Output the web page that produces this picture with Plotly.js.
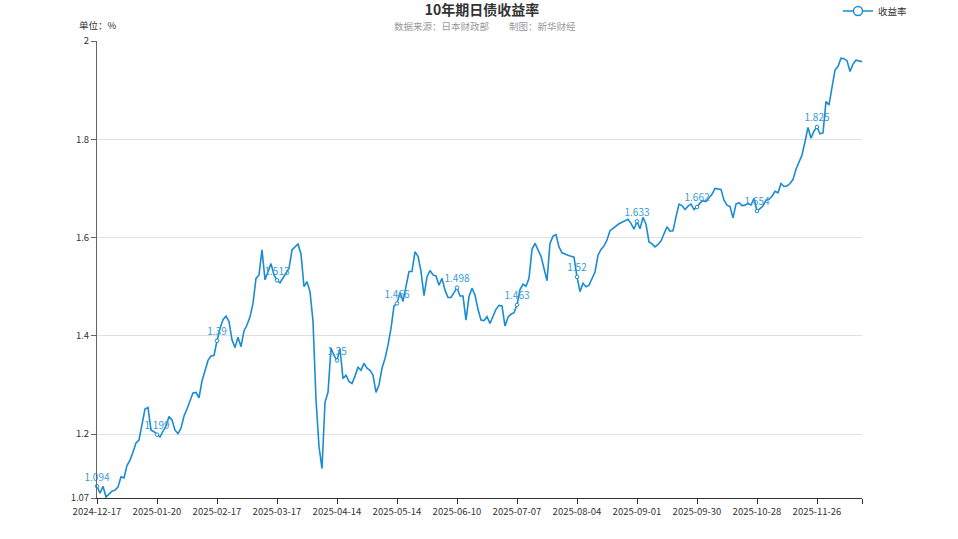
<!DOCTYPE html>
<html>
<head>
<meta charset="utf-8">
<script src="https://cdn.plot.ly/plotly-3.0.1.min.js"></script>
<style>
html,body{margin:0;padding:0;background:#fff;}
#chart{width:958px;height:539px;}
</style>
</head>
<body>
<div id="chart"></div>
<script>
// ---- data ----
const seriesName = '收益率';
const tickLabels = ['2024-12-17','2025-01-20','2025-02-17','2025-03-17','2025-04-14','2025-05-14',
  '2025-06-10','2025-07-07','2025-08-04','2025-09-01','2025-09-30','2025-10-28','2025-11-26'];
const yields = [
  1.094,1.080,1.094,1.072,1.078,1.084,1.086,1.092,1.113,1.111,
  1.136,1.147,1.163,1.182,1.188,1.218,1.251,1.254,1.208,1.205,
  1.199,1.194,1.206,1.216,1.236,1.229,1.208,1.201,1.212,1.237,
  1.251,1.266,1.284,1.285,1.274,1.308,1.327,1.350,1.359,1.360,
  1.390,1.415,1.433,1.440,1.429,1.392,1.376,1.397,1.378,1.410,
  1.422,1.439,1.466,1.517,1.524,1.575,1.514,1.531,1.547,1.524,
  1.513,1.508,1.517,1.528,1.537,1.575,1.581,1.587,1.566,1.500,
  1.510,1.490,1.430,1.270,1.175,1.130,1.265,1.285,1.375,1.360,
  1.350,1.374,1.313,1.320,1.307,1.303,1.318,1.336,1.330,1.344,
  1.334,1.330,1.320,1.285,1.300,1.334,1.354,1.381,1.415,1.461,
  1.466,1.488,1.470,1.500,1.531,1.531,1.571,1.562,1.531,1.482,
  1.520,1.533,1.524,1.522,1.503,1.517,1.493,1.478,1.478,1.488,
  1.498,1.481,1.481,1.432,1.480,1.497,1.483,1.454,1.432,1.431,
  1.439,1.425,1.440,1.454,1.462,1.461,1.420,1.438,1.444,1.447,
  1.463,1.494,1.505,1.501,1.517,1.576,1.588,1.576,1.562,1.537,
  1.512,1.588,1.603,1.606,1.581,1.569,1.566,1.564,1.562,1.560,
  1.520,1.490,1.507,1.500,1.503,1.515,1.530,1.564,1.576,1.583,
  1.595,1.614,1.619,1.624,1.628,1.631,1.634,1.637,1.629,1.617,
  1.633,1.618,1.641,1.627,1.591,1.587,1.581,1.586,1.593,1.608,
  1.622,1.613,1.614,1.642,1.668,1.665,1.657,1.664,1.668,1.657,
  1.662,1.670,1.675,1.673,1.681,1.688,1.700,1.699,1.698,1.676,
  1.666,1.663,1.640,1.668,1.671,1.665,1.666,1.670,1.666,1.680,
  1.654,1.659,1.664,1.676,1.678,1.684,1.694,1.691,1.710,1.704,
  1.705,1.710,1.718,1.739,1.754,1.768,1.795,1.824,1.802,1.817,
  1.825,1.811,1.813,1.877,1.870,1.907,1.941,1.948,1.965,1.964,
  1.960,1.938,1.953,1.961,1.959,1.958
];
const yTicks = [1.07, 1.2, 1.4, 1.6, 1.8, 2];
const labelEvery = 20;

// ---- derived ----
const idx = yields.map((_, i) => i);
const lastIdx = yields.length - 1;
const tickVals = tickLabels.map((_, k) => k * labelEvery).concat([lastIdx]);
const tickText = tickLabels.concat(['']);
const lblX = idx.filter(i => i % labelEvery === 0);
const lblY = lblX.map(i => yields[i]);
const lblT = lblY.map(v => String(Number(v)));

const lineColor = '#1a8cd2';
const labelColor = '#3a9ad8';
const FONT = '"Noto Sans CJK SC", "Noto Sans", sans-serif';

const W = 958, H = 539, L = 97, R = 96, T = 41, B = 41;
const pw = W - L - R, ph = H - T - B;
const px = x => (x - L) / pw;
const py = y => 1 + (T - y) / ph;

const traces = [
  {
    x: idx, y: yields, type: 'scatter', mode: 'lines',
    line: {color: lineColor, width: 1.6},
    showlegend: false, hoverinfo: 'skip', cliponaxis: false
  },
  {
    x: lblX, y: lblY, type: 'scatter', mode: 'markers+text',
    text: lblT, textposition: 'top center',
    textfont: {family: FONT, size: 10, color: labelColor},
    marker: {size: 3.5, color: '#ffffff', line: {color: lineColor, width: 1}},
    showlegend: false, hoverinfo: 'skip', cliponaxis: false
  },
  {
    x: [null], y: [null], type: 'scatter', mode: 'lines+markers', name: seriesName,
    line: {color: lineColor, width: 1.6},
    marker: {size: 9, color: '#ffffff', line: {color: lineColor, width: 1.4}},
    showlegend: true, hoverinfo: 'skip'
  }
];

const layout = {
  width: W, height: H,
  margin: {l: L, r: R, t: T, b: B, pad: 0, autoexpand: false},
  paper_bgcolor: '#ffffff', plot_bgcolor: '#ffffff',
  font: {family: FONT, size: 10, color: '#333'},
  showlegend: true,
  legend: {
    x: px(838), y: py(11), xanchor: 'left', yanchor: 'middle',
    orientation: 'h', bgcolor: 'rgba(0,0,0,0)',
    font: {family: FONT, size: 9.5, color: '#333'}
  },
  xaxis: {
    range: [0, lastIdx],
    tickmode: 'array', tickvals: tickVals, ticktext: tickText,
    ticks: 'outside', ticklen: 5, tickcolor: '#333', tickwidth: 1,
    showline: true, linecolor: '#333', linewidth: 1,
    showgrid: false, zeroline: false, automargin: false,
    tickfont: {family: FONT, size: 9.5, color: '#333'}
  },
  yaxis: {
    range: [yTicks[0], yTicks[yTicks.length - 1]],
    tickmode: 'array', tickvals: yTicks, ticktext: yTicks.map(v => String(v)),
    ticks: 'outside', ticklen: 5, tickcolor: '#666', tickwidth: 1,
    showline: true, linecolor: '#666', linewidth: 1,
    showgrid: true, gridcolor: '#e0e0e0', gridwidth: 1, zeroline: false, automargin: false,
    tickfont: {family: FONT, size: 9.5, color: '#333'}
  },
  title: {
    text: '<b>10年期日债收益率</b>',
    font: {family: FONT, size: 14, color: '#333'},
    x: 482 / W, xref: 'container', xanchor: 'center',
    y: 1 - 10 / H, yref: 'container', yanchor: 'middle', automargin: false
  },
  annotations: [
    {text: '数据来源：日本财政部', xref: 'paper', yref: 'paper', x: px(392), y: py(26),
     xanchor: 'left', yanchor: 'middle', showarrow: false,
     font: {family: FONT, size: 9.5, color: '#999'}},
    {text: '制图：新华财经', xref: 'paper', yref: 'paper', x: px(507), y: py(26),
     xanchor: 'left', yanchor: 'middle', showarrow: false,
     font: {family: FONT, size: 9.5, color: '#999'}},
    {text: '单位：%', xref: 'paper', yref: 'paper', x: px(77), y: py(25),
     xanchor: 'left', yanchor: 'middle', showarrow: false,
     font: {family: FONT, size: 9.5, color: '#333'}}
  ]
};

Plotly.newPlot('chart', traces, layout, {displayModeBar: false, staticPlot: true});
</script>
</body>
</html>
